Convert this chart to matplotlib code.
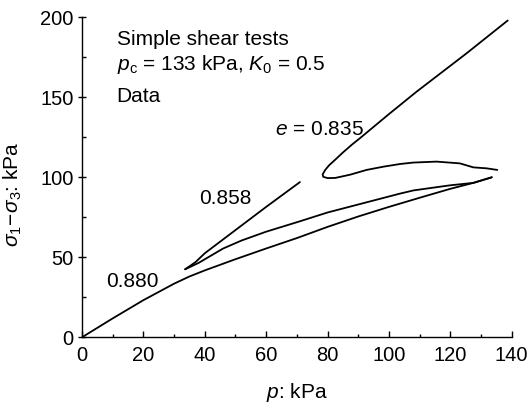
import matplotlib
matplotlib.use("Agg")
import matplotlib.pyplot as plt
from matplotlib.ticker import MultipleLocator

plt.rcParams['font.family'] = ['Liberation Sans', 'DejaVu Sans']
plt.rcParams['mathtext.fontset'] = 'custom'
plt.rcParams['mathtext.rm'] = 'Liberation Sans'
plt.rcParams['mathtext.it'] = 'Liberation Sans:italic'
plt.rcParams['mathtext.sf'] = 'Liberation Sans'

# e = 0.880 : loading branch from origin to the tip
p_880 = [0, 10, 20, 30, 35, 40, 50, 60, 70, 80, 90, 100, 110, 120, 127.5, 133.5]
q_880 = [0, 11.8, 23.2, 33.5, 38, 41.8, 48.8, 55.5, 62, 69, 75.5, 81.5, 87.2, 92.8, 96.5, 100]

# return branch from the tip back to the loop point
p_ret = [133.5, 127.5, 120, 116.6, 108, 103.6, 97, 90, 80, 71, 60, 52, 46, 42, 38, 33.6]
q_ret = [100, 96.5, 95, 94.1, 91.8, 89.8, 86.5, 83, 78, 72.5, 66, 60.5, 55.5, 51, 46.5, 42.5]

# e = 0.858 : rising branch
p_858 = [33.6, 37, 40, 50, 60, 71]
q_858 = [42.5, 47, 52.5, 67, 81.5, 97]

# e = 0.835
p_835 = [135.3, 131.8, 127.5, 123.1, 115.5, 107.9, 103.6, 98.1, 92.7, 87.3, 82.5, 80,
         78.6, 78.4, 79.2, 80.5, 82.5, 85, 88, 90.6, 100, 109, 125.3, 138.7]
q_835 = [104.6, 105.6, 106.2, 108.7, 109.8, 109.2, 108.3, 106.6, 104.6, 101.6, 99.6, 99.5,
         100.3, 101.8, 104.5, 107.5, 111, 115.5, 120.5, 124.5, 139.5, 153.5, 177.5, 198]

fig = plt.figure(figsize=(5.31, 4.05), dpi=100)
ax = fig.add_axes([0.1544, 0.1672, 0.8093, 0.7901])

lw = 1.3
for px, qy in [(p_880, q_880), (p_ret, q_ret), (p_858, q_858), (p_835, q_835)]:
    ax.plot(px, qy, color='black', lw=lw, solid_joinstyle='round', solid_capstyle='round')

ax.set_xlim(0, 140)
ax.set_ylim(0, 200)
ax.spines['top'].set_visible(False)
ax.spines['right'].set_visible(False)
for s in ('left', 'bottom'):
    ax.spines[s].set_linewidth(1.0)

ax.xaxis.set_major_locator(MultipleLocator(20))
ax.xaxis.set_minor_locator(MultipleLocator(10))
ax.yaxis.set_major_locator(MultipleLocator(50))
ax.yaxis.set_minor_locator(MultipleLocator(25))

tfs = 14.5
ax.tick_params(axis='x', which='major', direction='in', length=4, width=1, labelsize=tfs, pad=6.5)
ax.tick_params(axis='x', which='minor', direction='in', length=2, width=1)
ax.tick_params(axis='y', which='major', direction='inout', length=6, width=1, labelsize=tfs, pad=3)
ax.tick_params(axis='y', which='minor', direction='in', length=3, width=1)

ax.set_xlabel(r'$p$: kPa', fontsize=15)
ax.xaxis.set_label_coords(0.5, -0.138)
ax.set_ylabel(r'$\sigma_1\!-\!\sigma_3$: kPa', fontsize=15)
ax.yaxis.set_label_coords(-0.134, 0.448)

fs = 15
ax.text(11.3, 186.4, 'Simple shear tests', fontsize=fs, va='center', ha='left')
ax.text(11.3, 170.7, r'$p_{\mathrm{c}}$ = 133 kPa, $K_{\mathrm{0}}$ = 0.5', fontsize=fs, va='center', ha='left')
ax.text(11.3, 150.2, 'Data', fontsize=fs, va='center', ha='left')
ax.text(63, 129.8, r'$e$ = 0.835', fontsize=fs, va='center', ha='left')
ax.text(38.3, 86.9, '0.858', fontsize=fs, va='center', ha='left')
ax.text(8, 34.6, '0.880', fontsize=fs, va='center', ha='left')

fig.savefig('out.png', dpi=100)
